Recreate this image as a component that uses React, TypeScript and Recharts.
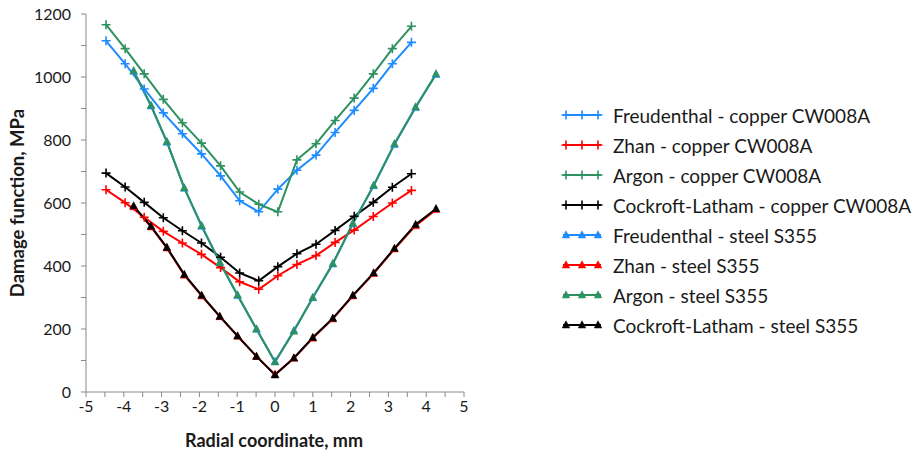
import React from 'react';
import { LineChart, Line, XAxis, YAxis } from 'recharts';

// ---- data ----
const copperX = [-4.47, -3.965, -3.46, -2.955, -2.45, -1.945, -1.44, -0.935, -0.43, 0.075, 0.58, 1.085, 1.59, 2.095, 2.6, 3.105, 3.61];
const steelX = [-3.74, -3.28, -2.86, -2.4, -1.94, -1.46, -0.99, -0.49, 0, 0.5, 1.0, 1.53, 2.06, 2.61, 3.16, 3.72, 4.26];

const freudenthalCopper = [1115, 1042, 962, 886, 820, 756, 686, 607, 572, 644, 704, 752, 824, 894, 964, 1042, 1110];
const zhanCopper = [642, 601, 555, 510, 473, 437, 395, 350, 326, 369, 405, 433, 475, 514, 557, 600, 640];
const argonCopper = [1166, 1090, 1010, 929, 855, 790, 718, 635, 596, 572, 737, 788, 862, 933, 1010, 1090, 1161];
const cockroftCopper = [695, 651, 602, 553, 512, 473, 428, 378, 353, 398, 439, 469, 513, 558, 602, 650, 693];

const freudenthalSteel = [1018, 908, 793, 647, 526, 411, 306, 199, 97, 195, 299, 406, 534, 655, 786, 903, 1008];
const zhanSteel = [588, 524, 457, 371, 305, 239, 177, 113, 56, 107, 171, 232, 305, 376, 454, 528, 579];
const argonSteel = [1020, 910, 795, 648, 528, 412, 308, 200, 95, 193, 300, 408, 536, 656, 788, 905, 1010];
const cockroftSteel = [591, 526, 459, 373, 307, 240, 178, 113, 54, 108, 173, 234, 307, 378, 456, 532, 582];

const seriesNames = [
  'Freudenthal - copper CW008A',
  'Zhan - copper CW008A',
  'Argon - copper CW008A',
  'Cockroft-Latham - copper CW008A',
  'Freudenthal - steel S355',
  'Zhan - steel S355',
  'Argon - steel S355',
  'Cockroft-Latham - steel S355',
];

const xTicks = [-5, -4.5, -4, -3.5, -3, -2.5, -2, -1.5, -1, -0.5, 0, 0.5, 1, 1.5, 2, 2.5, 3, 3.5, 4, 4.5, 5];
const yTicks = [0, 100, 200, 300, 400, 500, 600, 700, 800, 900, 1000, 1100, 1200];

const BLUE = '#1E8CFF';
const RED = '#FF0000';
const GREEN = '#2E9160';
const BLACK = '#000000';
const FONT = 'Lato, "Open Sans", sans-serif';
const TEXT = '#1a1a1a';
const AXIS = '#8A8A8A';

const pts = (xs: number[], ys: number[]) => xs.map((x, i) => ({ x, y: ys[i] }));

const series = [
  { name: seriesNames[0], color: BLUE, marker: 'plus', data: pts(copperX, freudenthalCopper) },
  { name: seriesNames[1], color: RED, marker: 'plus', data: pts(copperX, zhanCopper) },
  { name: seriesNames[2], color: GREEN, marker: 'plus', data: pts(copperX, argonCopper) },
  { name: seriesNames[3], color: BLACK, marker: 'plus', data: pts(copperX, cockroftCopper) },
  { name: seriesNames[4], color: BLUE, marker: 'tri', data: pts(steelX, freudenthalSteel) },
  { name: seriesNames[5], color: RED, marker: 'tri', data: pts(steelX, zhanSteel) },
  { name: seriesNames[6], color: GREEN, marker: 'tri', data: pts(steelX, argonSteel) },
  { name: seriesNames[7], color: BLACK, marker: 'tri', data: pts(steelX, cockroftSteel) },
];

function Marker({ cx, cy, color, kind }: { cx: number; cy: number; color: string; kind: string }) {
  if (cx == null || cy == null) return null;
  if (kind === 'plus') {
    const s = 4.5;
    return (
      <path
        d={`M${cx - s},${cy}L${cx + s},${cy}M${cx},${cy - s}L${cx},${cy + s}`}
        stroke={color}
        strokeWidth={1.6}
        fill="none"
      />
    );
  }
  return (
    <path
      d={`M${cx},${cy - 4.2}L${cx + 3.8},${cy + 3}L${cx - 3.8},${cy + 3}Z`}
      fill={color}
      stroke={color}
      strokeWidth={0.5}
    />
  );
}

const XTick = (props: any) => {
  const { x, y, payload } = props;
  const v = payload.value;
  if (!Number.isInteger(v)) return <g />;
  return (
    <text x={x} y={y} dy={13} textAnchor="middle" fontFamily={FONT} fontSize={16} fill={TEXT}>
      {String(v)}
    </text>
  );
};

const YTick = (props: any) => {
  const { x, y, payload } = props;
  const v = payload.value;
  if (v % 200 !== 0) return <g />;
  return (
    <text x={x} y={y} dy={5.5} textAnchor="end" fontFamily={FONT} fontSize={16} fill={TEXT}>
      {String(v)}
    </text>
  );
};

const XTitle = () => (
  <text x={274} y={447} textAnchor="middle" fontFamily={FONT} fontSize={18} fontWeight="bold" fill={TEXT}>
    Radial coordinate, mm
  </text>
);

const YTitle = () => (
  <text
    x={24}
    y={203}
    transform="rotate(-90 24 203)"
    textAnchor="middle"
    fontFamily={FONT}
    fontSize={18.5}
    fontWeight="bold"
    fill={TEXT}
  >
    Damage function, MPa
  </text>
);

function LegendIcon({ color, kind }: { color: string; kind: string }) {
  return (
    <svg width={42} height={14} style={{ display: 'block' }}>
      <line x1={2} y1={7} x2={40} y2={7} stroke={color} strokeWidth={2} />
      <Marker cx={5} cy={7} color={color} kind={kind} />
      <Marker cx={21} cy={7} color={color} kind={kind} />
      <Marker cx={37} cy={7} color={color} kind={kind} />
    </svg>
  );
}

export default function App() {
  return (
    <div style={{ position: 'absolute', left: 0, top: 0, width: 917, height: 457, background: '#fff' }}>
      <LineChart width={917} height={457} margin={{ top: 14, right: 453, bottom: 0, left: 0 }}>
        <XAxis
          type="number"
          dataKey="x"
          domain={[-5, 5]}
          ticks={xTicks}
          interval={0}
          allowDataOverflow
          height={65}
          stroke={AXIS}
          tickSize={5}
          tick={<XTick />}
          label={<XTitle />}
        />
        <YAxis
          type="number"
          dataKey="y"
          domain={[0, 1200]}
          ticks={yTicks}
          interval={0}
          width={86}
          stroke={AXIS}
          tickSize={5}
          tickMargin={10}
          tick={<YTick />}
          label={<YTitle />}
        />
        {series.map((s) => (
          <Line
            key={s.name}
            name={s.name}
            data={s.data}
            dataKey="y"
            type="linear"
            stroke={s.color}
            strokeWidth={2}
            isAnimationActive={false}
            dot={(p: any) => <Marker key={`${s.name}-${p.index}`} cx={p.cx} cy={p.cy} color={s.color} kind={s.marker} />}
            activeDot={false}
          />
        ))}
      </LineChart>
      <div style={{ position: 'absolute', left: 561, top: 100 }}>
        {series.map((s) => (
          <div key={s.name} style={{ display: 'flex', alignItems: 'center', height: 30 }}>
            <LegendIcon color={s.color} kind={s.marker} />
            <span style={{ marginLeft: 10, fontFamily: FONT, fontSize: 19, color: TEXT, whiteSpace: 'nowrap' }}>{s.name}</span>
          </div>
        ))}
      </div>
    </div>
  );
}
